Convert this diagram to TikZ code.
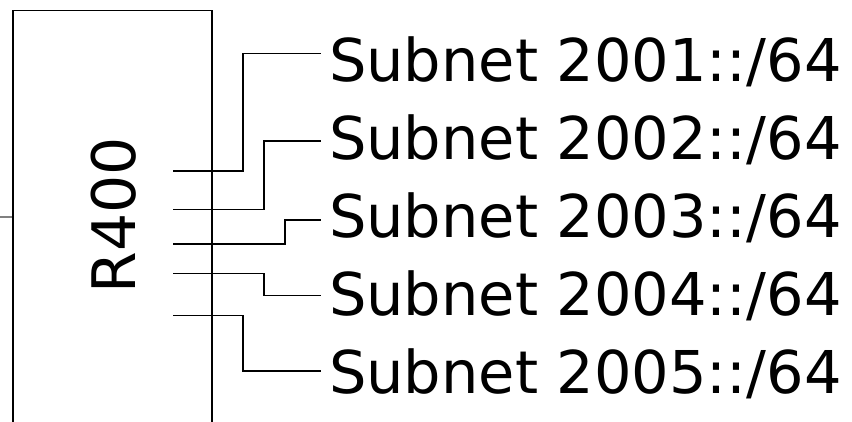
\documentclass[tikz,border=0pt]{standalone}
\usepackage{fontspec}
\setmainfont{DejaVu Sans}
\begin{document}
\begin{tikzpicture}[x=1bp,y=-1bp,
  wire/.style={draw=black,line width=1.6bp},
  box/.style={draw=black,line width=1.4bp,rectangle,minimum width=199bp,minimum height=460bp,inner sep=0pt,anchor=north west},
  lbl/.style={inner sep=0pt,anchor=base west,font=\fontsize{59bp}{70bp}\selectfont},
  big/.style={inner sep=0pt,anchor=base,rotate=90,font=\fontsize{60bp}{72bp}\selectfont}]
\useasboundingbox (0,0) rectangle (852,421);
\clip (0,0) rectangle (852,421);
\fill[white] (0,0) rectangle (852,421);
\node[box] (R) at (12.3,9.7) {};
\node[big] (rname) at (135.7,215) {R400};
\coordinate (ext) at (0,217);
\draw[draw=gray,line width=1.4bp] (ext) -- (R.west |- ext);
% connector starts
\coordinate (s1) at (173,170.7);
\coordinate (s2) at (173,209.3);
\coordinate (s3) at (173,243.7);
\coordinate (s4) at (173,273.3);
\coordinate (s5) at (173,315.3);
% connector ends
\coordinate (e1) at (321,53.3);
\coordinate (e2) at (321,141);
\coordinate (e3) at (321,220);
\coordinate (e4) at (321,295.3);
\coordinate (e5) at (321,370.7);
% labels
\node[lbl] (n1) at (328.8,81.7) {Subnet 2001::/64};
\node[lbl] (n2) at (328.8,159.6) {Subnet 2002::/64};
\node[lbl] (n3) at (328.8,237.5) {Subnet 2003::/64};
\node[lbl] (n4) at (328.8,315.4) {Subnet 2004::/64};
\node[lbl] (n5) at (328.8,393.3) {Subnet 2005::/64};
% connectors
\draw[wire] (s1) -- (243,170.7) |- (e1);
\draw[wire] (s2) -- (263.7,209.3) |- (e2);
\draw[wire] (s3) -- (285,243.7) |- (e3);
\draw[wire] (s4) -- (263.7,273.3) |- (e4);
\draw[wire] (s5) -- (243,315.3) |- (e5);
\end{tikzpicture}
\end{document}
